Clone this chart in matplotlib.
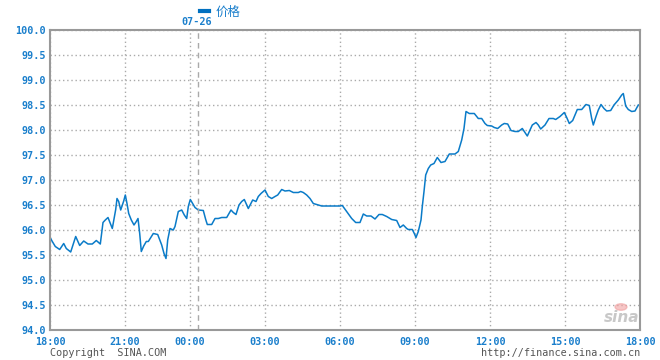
import matplotlib
matplotlib.use("Agg")
import matplotlib.pyplot as plt

# time position in axis slot units (0 = 18:00, 590 = 18:00 next day), by session segment
t_a = [0.7, 2, 5.3, 9.7, 13.7, 16.3, 20.7, 23, 25.7, 29.7, 33.7, 38, 42.3, 46.3, 50.3,
       53, 55.3, 58, 62.3, 65.7, 67, 68.7, 70.7, 73.7, 75.3, 77, 78.7, 81.3, 84, 86.3,
       88, 89.7, 91.3, 93.7, 96.3]
p_a = [95.83, 95.78, 95.67, 95.61, 95.73, 95.63, 95.56, 95.70, 95.87, 95.69, 95.78,
       95.72, 95.72, 95.79, 95.72, 96.15, 96.20, 96.25, 96.03, 96.41, 96.63, 96.57,
       96.40, 96.58, 96.70, 96.53, 96.33, 96.20, 96.10, 96.17, 96.23, 95.93, 95.57,
       95.68, 95.77]
t_b = [98.3, 103.3, 107.7, 111.7, 114, 116, 117.7, 120, 123.3, 125, 128.3, 131.7,
       134.3, 136.7, 138.3, 140.3, 142.7, 145, 148.3, 153.3, 155.7, 157.3, 161.7, 165,
       168.3, 171.7, 176.7, 181, 183.3, 186, 189, 191.7, 194.3]
p_b = [95.77, 95.93, 95.91, 95.70, 95.53, 95.43, 95.80, 96.03, 96.00, 96.07, 96.37,
       96.40, 96.30, 96.23, 96.47, 96.61, 96.53, 96.45, 96.40, 96.39, 96.21, 96.11,
       96.11, 96.23, 96.23, 96.25, 96.25, 96.40, 96.35, 96.31, 96.50, 96.57, 96.61]
t_c = [198.3, 202.7, 206, 208.3, 211, 215, 218.3, 221.7, 225, 227.7, 231.7, 235, 239.3,
       243.3, 248.3, 250.7, 253.3, 256.7, 260, 263.3, 266.7, 271.7, 290]
p_c = [96.43, 96.60, 96.57, 96.67, 96.73, 96.80, 96.67, 96.63, 96.67, 96.70, 96.81,
       96.78, 96.79, 96.75, 96.75, 96.77, 96.75, 96.70, 96.63, 96.53, 96.51, 96.48, 96.48]
t_d = [292.3, 296.7, 301.7, 305.7, 310, 313.3, 316.7, 321, 325, 329, 332.3, 336.7,
       341.7, 346.7, 350, 353.3, 356.7, 358.3, 362.3, 364.3, 366, 368.3]
p_d = [96.49, 96.37, 96.23, 96.15, 96.15, 96.32, 96.28, 96.28, 96.22, 96.31, 96.31,
       96.27, 96.21, 96.19, 96.05, 96.10, 96.03, 96.01, 96.01, 95.93, 95.85, 95.97]
t_e = [371, 372.3, 374, 375.7, 378.3, 380.7, 384, 387.3, 391, 395, 399.3, 405, 408.3,
       411.7, 414, 416, 419.3, 424.3, 428.3, 431.7, 435, 437.3]
p_e = [96.20, 96.47, 96.77, 97.10, 97.23, 97.30, 97.33, 97.45, 97.35, 97.37, 97.52,
       97.52, 97.57, 97.80, 98.03, 98.37, 98.33, 98.33, 98.23, 98.23, 98.13, 98.09]
t_f = [441.7, 444.3, 447.7, 451.7, 454.3, 457.7, 461, 465, 468.3, 472.3, 474.3, 477.3,
       480, 482.3, 486, 488.3, 490.7, 495, 499, 503.3, 505.7, 510, 514.3]
p_f = [98.08, 98.05, 98.03, 98.10, 98.13, 98.12, 97.99, 97.97, 97.97, 98.03, 97.97,
       97.88, 98.00, 98.10, 98.15, 98.10, 98.02, 98.10, 98.23, 98.23, 98.21, 98.27, 98.35]
t_g = [516.7, 519.3, 522.7, 527.3, 531.7, 536, 539.3, 541.7, 543.3, 546, 548.3, 551,
       554, 556.7, 560.7, 564, 568.3, 571.7, 573.3, 575.7, 578.3, 581.7, 585, 588.3]
p_g = [98.25, 98.13, 98.19, 98.41, 98.41, 98.51, 98.49, 98.23, 98.10, 98.27, 98.40,
       98.51, 98.43, 98.38, 98.39, 98.50, 98.60, 98.70, 98.73, 98.48, 98.41, 98.37,
       98.38, 98.50]

x_tick_pos = [0, 75, 140, 215, 290, 365, 440, 515, 590]
x_tick_labels = ["18:00", "21:00", "00:00", "03:00", "06:00", "09:00", "12:00", "15:00", "18:00"]
y_ticks = [94.0, 94.5, 95.0, 95.5, 96.0, 96.5, 97.0, 97.5, 98.0, 98.5, 99.0, 99.5, 100.0]
date_mark_pos = 147.7
date_mark_label = "07-26"
series_name = "价格"

t = t_a + t_b + t_c + t_d + t_e + t_f + t_g
price = p_a + p_b + p_c + p_d + p_e + p_f + p_g

BLUE = "#0A7BC8"
TXT = "#1A7FCC"
GRID = "#AAAAAA"
FS = 7.3

fig = plt.figure(figsize=(6.6, 3.6), dpi=100)
ax = fig.add_axes([50/660, 30/360, 590/660, 300/360])
ax.plot(t, price, color=BLUE, lw=1.1)
ax.set_xlim(0, 590)
ax.set_ylim(94.0, 100.0)
ax.set_xticks(x_tick_pos)
ax.set_xticklabels(x_tick_labels)
ax.set_yticks(y_ticks)
ax.set_yticklabels([f"{v:.1f}" for v in y_ticks])
ax.tick_params(length=0, colors=TXT, labelsize=FS)
ax.tick_params(axis="y", pad=3)
ax.tick_params(axis="x", pad=5)
for lab in ax.get_xticklabels() + ax.get_yticklabels():
    lab.set_family("DejaVu Sans Mono")
    lab.set_fontweight("bold")
ax.grid(True, color=GRID, linestyle=(0, (1, 2)), lw=1)
for s in ax.spines.values():
    s.set_color("#999999")
    s.set_linewidth(1.5)
ax.axvline(date_mark_pos, color="#AAAAAA", lw=1, linestyle=(0, (4, 3)))

# date label and legend above plot
fig.text(197/660, 1 - 22/360, date_mark_label, color=TXT, fontsize=FS, fontweight="bold",
         family="DejaVu Sans Mono", ha="center", va="center")
fig.add_artist(plt.Line2D([200/660, 209/660], [1 - 11/360, 1 - 11/360],
                          color="#0070C0", lw=3))
fig.text(216/660, 1 - 12/360, series_name, color=TXT, fontsize=9,
         family=["Noto Sans CJK SC", "DejaVu Sans"], ha="left", va="center")

# footer texts
fig.text(50/660, 1 - 353.5/360, "Copyright  SINA.COM", color="#555555", fontsize=FS,
         family="DejaVu Sans Mono", ha="left", va="center")
fig.text(640/660, 1 - 353.5/360, "http://finance.sina.com.cn", color="#555555", fontsize=FS,
         family="DejaVu Sans Mono", ha="right", va="center")

# watermark logo
fig.text(622/660, 1 - 318/360, "sina", color="#BBBBBB", fontsize=11, fontweight="bold",
         style="italic", ha="center", va="center", alpha=0.8)
fig.add_artist(plt.Circle((621/660, 1 - 307/360), 0.009, transform=fig.transFigure,
                          color="#F0A0A0", alpha=0.6))

fig.savefig("out.png", dpi=100)
